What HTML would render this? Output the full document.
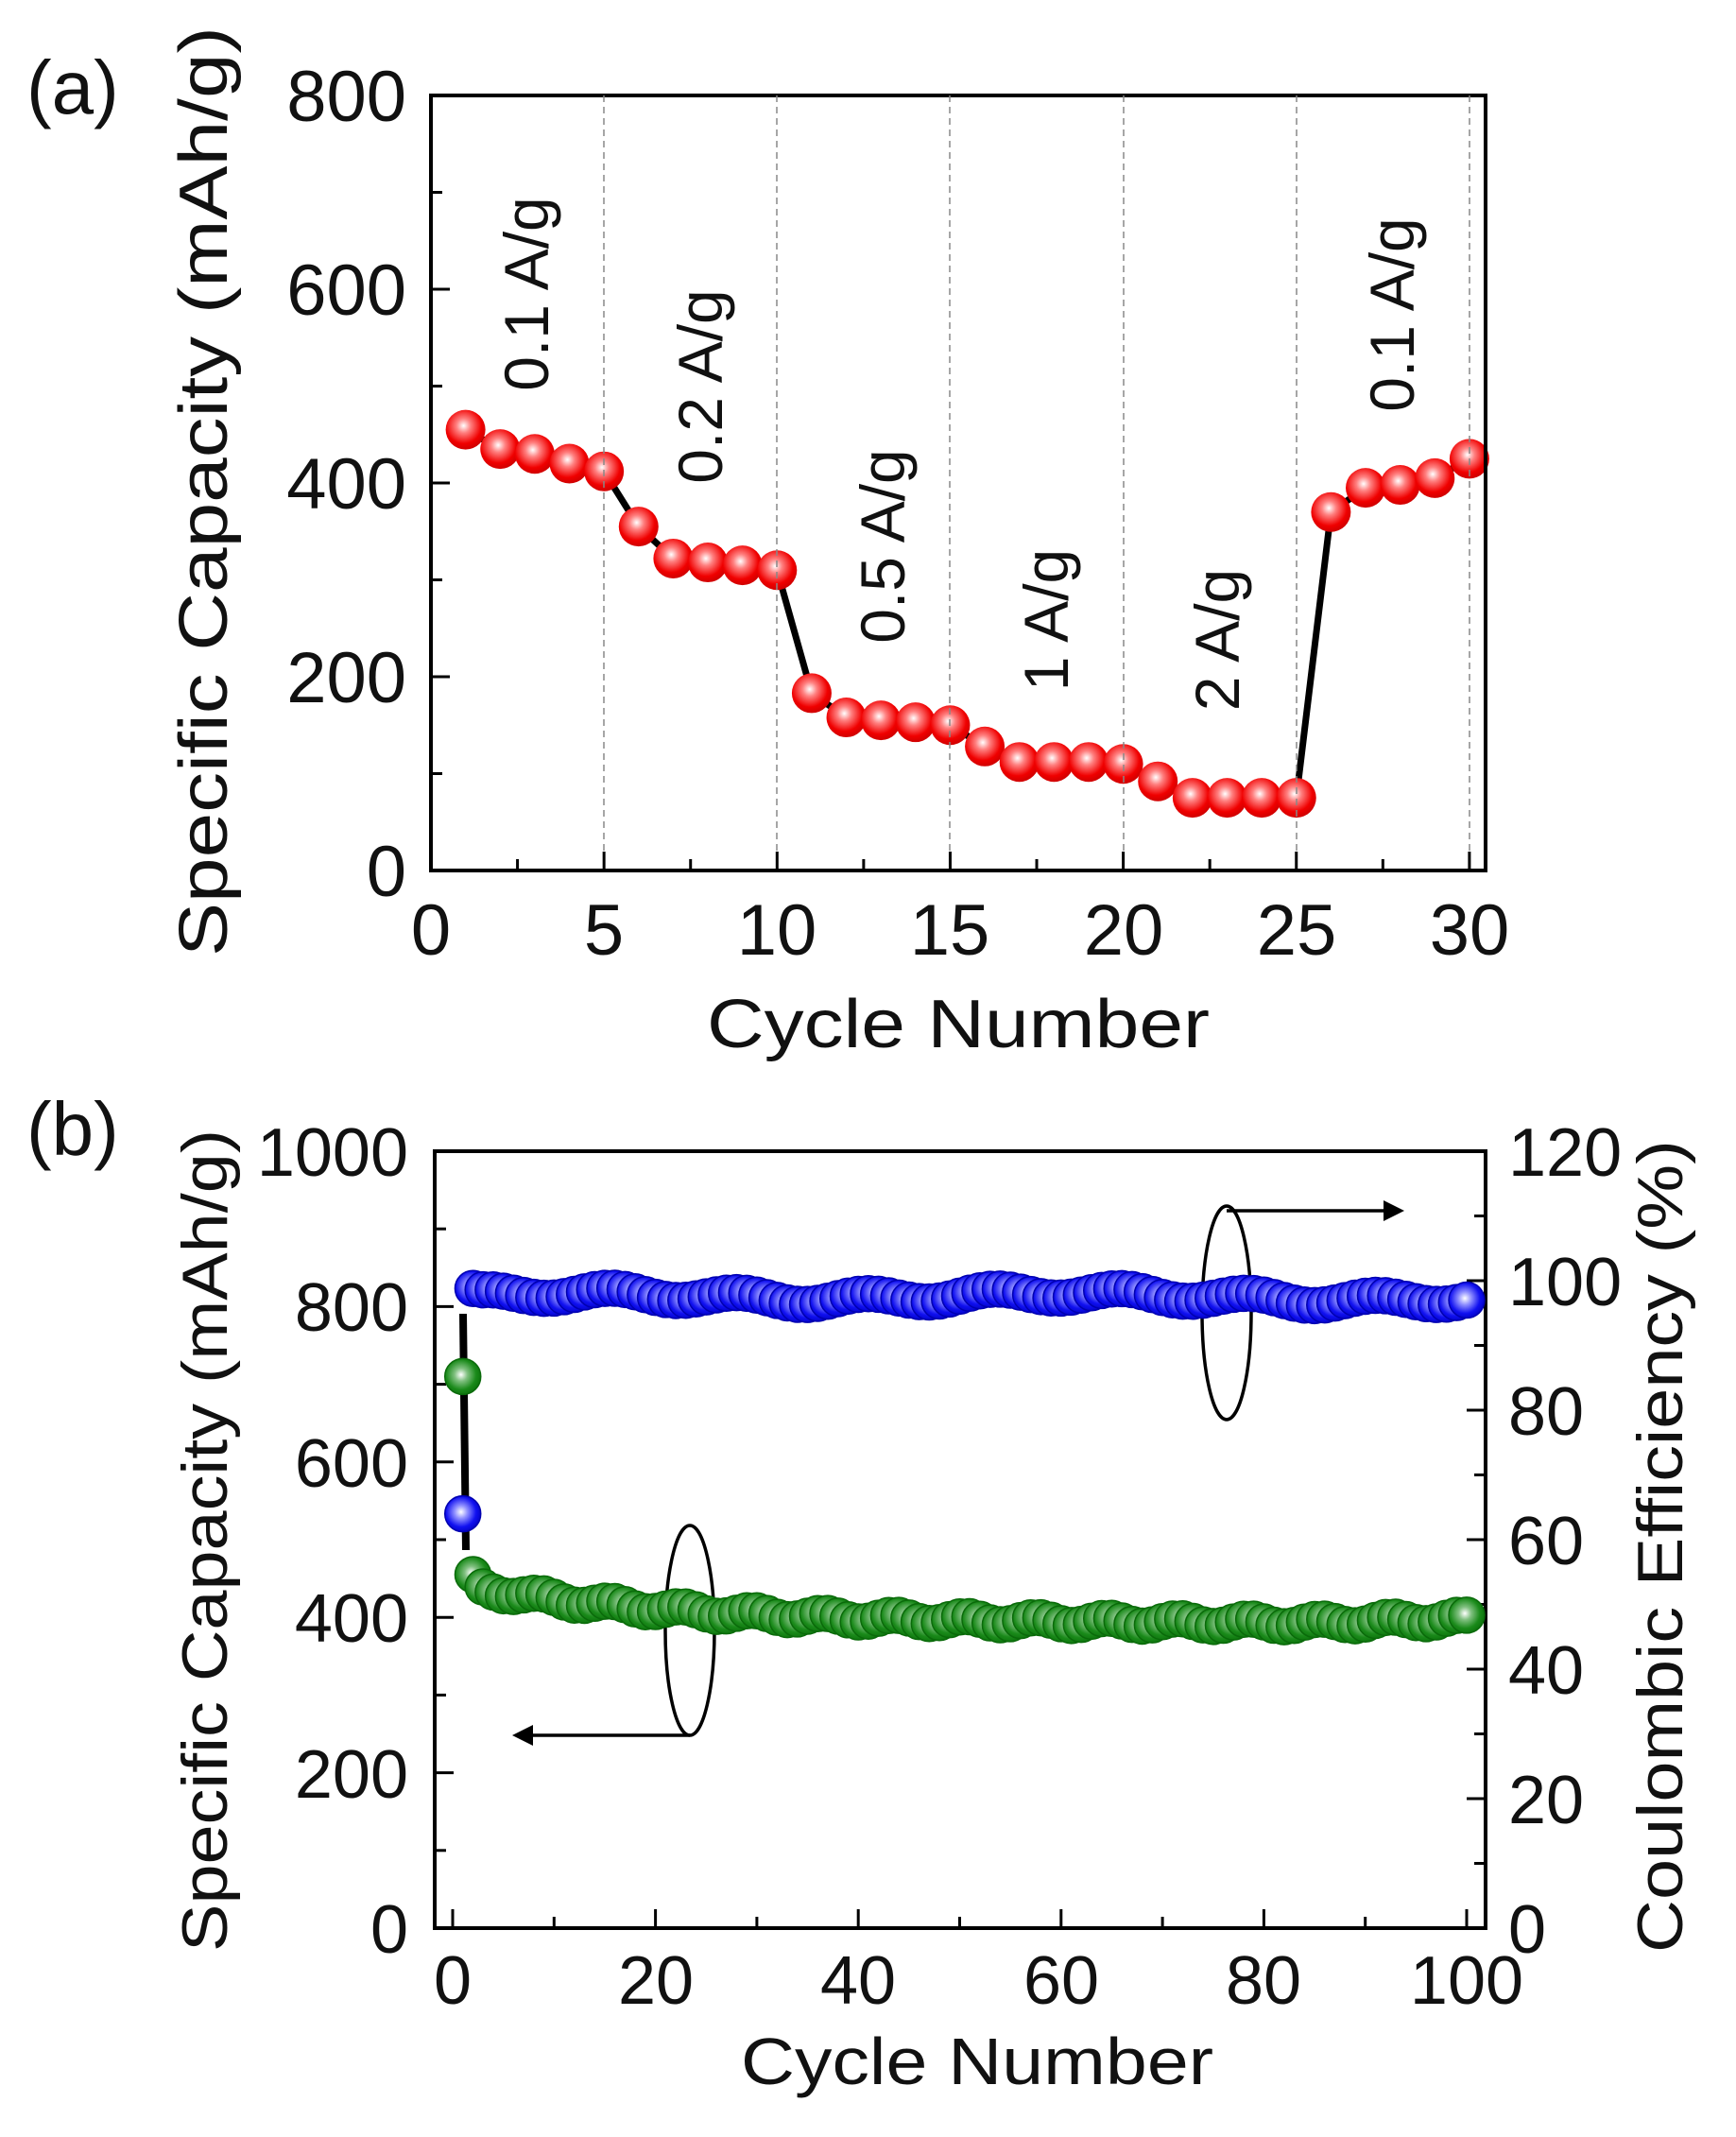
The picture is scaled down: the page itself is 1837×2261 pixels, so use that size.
<!DOCTYPE html>
<html><head><meta charset="utf-8"><style>
html,body{margin:0;padding:0;background:#fff;}
svg{display:block;}
text{font-family:"Liberation Sans",Arial,sans-serif;fill:#111;}
</style></head><body>
<svg id="s" width="1837" height="2261" viewBox="0 0 1837 2261" xmlns="http://www.w3.org/2000/svg">
<defs>
<radialGradient id="gr" cx="0.45" cy="0.4" r="0.6"><stop offset="0" stop-color="#fff"/><stop offset="0.3" stop-color="#ff8080"/><stop offset="0.75" stop-color="#f00000"/><stop offset="1" stop-color="#d00000"/></radialGradient>
<radialGradient id="gb" cx="0.45" cy="0.45" r="0.6"><stop offset="0" stop-color="#fff"/><stop offset="0.3" stop-color="#9090ff"/><stop offset="0.7" stop-color="#1010f0"/><stop offset="1" stop-color="#0000c0"/></radialGradient>
<radialGradient id="gg" cx="0.45" cy="0.45" r="0.6"><stop offset="0" stop-color="#fff"/><stop offset="0.3" stop-color="#80c080"/><stop offset="0.7" stop-color="#1a8a1a"/><stop offset="1" stop-color="#0a700a"/></radialGradient>
<marker id="ah" markerWidth="22" markerHeight="22" refX="18" refY="11" orient="auto" markerUnits="userSpaceOnUse"><path d="M0,0 L22,11 L0,22 z" fill="#000"/></marker>
</defs>
<g id="ga"></g>
<rect x="456" y="101" width="1116" height="820" fill="none" stroke="#000" stroke-width="4"/>
<g stroke="#888" stroke-width="1.5" stroke-dasharray="7,5">
<line x1="639" y1="101" x2="639" y2="921"/><line x1="822" y1="101" x2="822" y2="921"/><line x1="1005" y1="101" x2="1005" y2="921"/><line x1="1189" y1="101" x2="1189" y2="921"/><line x1="1372" y1="101" x2="1372" y2="921"/><line x1="1555" y1="101" x2="1555" y2="921"/>
</g>
<g font-size="76" text-anchor="end">
<text x="430" y="128">800</text><text x="430" y="333">600</text><text x="430" y="538">400</text><text x="430" y="743">200</text><text x="430" y="948">0</text>
</g>
<g font-size="76" text-anchor="middle">
<text x="456" y="1010">0</text><text x="639" y="1010">5</text><text x="822" y="1010">10</text><text x="1005" y="1010">15</text><text x="1189" y="1010">20</text><text x="1372" y="1010">25</text><text x="1555" y="1010">30</text>
</g>
<text x="1014" y="1108" font-size="72" text-anchor="middle" textLength="532" lengthAdjust="spacingAndGlyphs">Cycle Number</text>
<text transform="translate(240,520) rotate(-90)" font-size="72" text-anchor="middle" textLength="984" lengthAdjust="spacingAndGlyphs">Specific Capacity (mAh/g)</text>
<text x="28" y="120" font-size="80">(a)</text>
<g font-size="66" text-anchor="middle">
<text transform="translate(580,311) rotate(-90)">0.1 A/g</text>
<text transform="translate(764,409) rotate(-90)">0.2 A/g</text>
<text transform="translate(957,578) rotate(-90)">0.5 A/g</text>
<text transform="translate(1130,656) rotate(-90)">1 A/g</text>
<text transform="translate(1311,677) rotate(-90)">2 A/g</text>
<text transform="translate(1496,333) rotate(-90)">0.1 A/g</text>
</g>
<rect x="460" y="1218" width="1112" height="822" fill="none" stroke="#000" stroke-width="4"/>
<g font-size="72" text-anchor="end">
<text x="432" y="1244">1000</text><text x="432" y="1408">800</text><text x="432" y="1573">600</text><text x="432" y="1737">400</text><text x="432" y="1902">200</text><text x="432" y="2066">0</text>
</g>
<g font-size="72" text-anchor="start">
<text x="1596" y="1244">120</text><text x="1596" y="1381">100</text><text x="1596" y="1518">80</text><text x="1596" y="1655">60</text><text x="1596" y="1792">40</text><text x="1596" y="1929">20</text><text x="1596" y="2066">0</text>
</g>
<g font-size="72" text-anchor="middle">
<text x="479" y="2120">0</text><text x="694" y="2120">20</text><text x="908" y="2120">40</text><text x="1123" y="2120">60</text><text x="1337" y="2120">80</text><text x="1552" y="2120">100</text>
</g>
<text x="1034" y="2205" font-size="70" text-anchor="middle" textLength="500" lengthAdjust="spacingAndGlyphs">Cycle Number</text>
<text transform="translate(240,1630) rotate(-90)" font-size="68" text-anchor="middle" textLength="870" lengthAdjust="spacingAndGlyphs">Specific Capacity (mAh/g)</text>
<text transform="translate(1780,1636) rotate(-90)" font-size="68" text-anchor="middle" textLength="860" lengthAdjust="spacingAndGlyphs">Coulombic Efficiency (%)</text>
<text x="28" y="1222" font-size="80">(b)</text>
<g fill="none" stroke="#000" stroke-width="3.5">
<ellipse cx="1298" cy="1389" rx="26" ry="113"/>
<line x1="1298" y1="1281" x2="1482" y2="1281" marker-end="url(#ah)"/>
<ellipse cx="730" cy="1725" rx="26" ry="111"/>
<line x1="730" y1="1836" x2="546" y2="1836" marker-end="url(#ah)"/>
</g>
<g id="gt" stroke="#000" stroke-width="3"></g>
<g id="gbm"></g>
</svg>
<script>
var NS="http://www.w3.org/2000/svg";
function el(p,t,a){var e=document.createElementNS(NS,t);for(var k in a)e.setAttribute(k,a[k]);p.appendChild(e);return e;}
var ga=document.getElementById("ga"),gt=document.getElementById("gt"),gb=document.getElementById("gbm");
for(var v=0;v<=800;v+=100){var y=921-1.025*v;el(gt,"line",{x1:456,y1:y,x2:456+(v%200?12:20),y2:y});}
for(var c=0;c<=30;c+=2.5){var x=456+36.63*c;el(gt,"line",{x1:x,y1:921,x2:x,y2:921-(c%5?12:20)});}
for(var v=0;v<=1000;v+=100){var y=2040-0.822*v;el(gt,"line",{x1:460,y1:y,x2:460+(v%200?12:20),y2:y});}
for(var p=0;p<=120;p+=10){var y=2040-6.85*p;el(gt,"line",{x1:1572,y1:y,x2:1572-(p%20?12:20),y2:y});}
for(var c=0;c<=100;c+=10){var x=479+10.73*c;el(gt,"line",{x1:x,y1:2040,x2:x,y2:2040-(c%20?12:20)});}
var A=[455,435,430,420,412,355,322,318,315,310,183,158,155,153,150,128,112,112,112,110,92,75,75,75,75,370,395,398,405,425];
var pts=A.map(function(v,i){return [456+36.63*(i+1),921-1.025*v];});
el(ga,"polyline",{points:pts.map(function(p){return p.join(",")}).join(" "),fill:"none",stroke:"#000","stroke-width":7});
pts.forEach(function(p){el(ga,"circle",{cx:p[0],cy:p[1],r:21,fill:"url(#gr)"});});
el(gb,"line",{x1:490,y1:1390,x2:493,y2:1640,stroke:"#000","stroke-width":8});
var G=[],B=[];
for(var c=1;c<=100;c++){
 var g;
 if(c==1)g=710;else if(c==2)g=455;else g=392+45*Math.exp(-(c-3)/20)+(c>85?(c-85)*0.4:0)+5*Math.sin(c*0.9);
 G.push(g);
 var b;
 if(c==1)b=64;else if(c==2)b=98.8;else b=97.6+0.8*Math.sin(c*0.5)+0.5*Math.sin(c*0.13)-(c>80?(c-80)*0.03:0);
 B.push(b);
}
G.forEach(function(v,i){el(gb,"circle",{cx:479+10.73*(i+1),cy:2040-0.822*v,r:19,fill:"url(#gg)",stroke:"#0a6a0a","stroke-width":1.5});});
B.forEach(function(v,i){el(gb,"circle",{cx:479+10.73*(i+1),cy:2040-6.85*v,r:19,fill:"url(#gb)",stroke:"#0000b0","stroke-width":1.5});});
</script>
</body></html>
